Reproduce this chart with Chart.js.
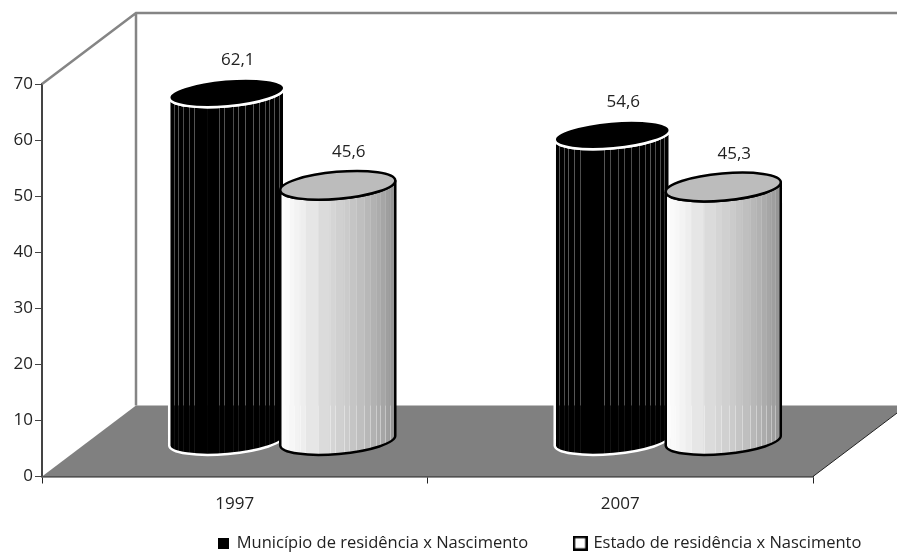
<!DOCTYPE html>
<html><head><meta charset="utf-8">
<style>html,body{margin:0;padding:0;background:#fff}canvas{display:block}</style>
<script src="https://cdn.jsdelivr.net/npm/chart.js@4/dist/chart.umd.min.js"></script>
</head><body><canvas id="c" width="897" height="554"></canvas>
<script>
const categories = ['1997','2007'];
const seriesNames = ['Município de residência x Nascimento','Estado de residência x Nascimento'];
const municipioValues = [62.1,54.6];
const estadoValues = [45.6,45.3];
const yTicks = [0,10,20,30,40,50,60,70];
const FONT = '"Open Sans",sans-serif';
const DEPTH_X = 94, DEPTH_Y = 71, TILT = -5*Math.PI/180, MINOR = 13.5;
const BAND_EDGES = [0,.04,.08,.12,.17,.22,.33,.43,.48,.55,.6,.66,.73,.78,.83,.87,.91,.95,1];

function whiteShade(t){
  const stops=[[0,255],[0.12,245],[0.35,222],[0.55,205],[0.75,185],[0.9,165],[1,145]];
  for(let i=1;i<stops.length;i++){ if(t<=stops[i][0]){const a=stops[i-1],b=stops[i];const v=Math.round(a[1]+(b[1]-a[1])*(t-a[0])/(b[0]-a[0]));return `rgb(${v},${v},${v})`;} }
  return 'rgb(145,145,145)';
}
const frame3d = {
  id:'frame3d',
  afterLayout(chart){
    const l=chart.legend;
    l.left=171.5; l.right=1000; l.top=488; l.bottom=554;
  },
  beforeDatasetsDraw(chart){
    const {ctx,chartArea:a}=chart;
    const floorBack=a.bottom-DEPTH_Y, top=a.top-DEPTH_Y;
    ctx.save();
    ctx.fillStyle='#808080';
    ctx.beginPath();ctx.moveTo(a.left,a.bottom);ctx.lineTo(a.left+DEPTH_X,floorBack);ctx.lineTo(a.right+DEPTH_X,floorBack);ctx.lineTo(a.right,a.bottom);ctx.closePath();ctx.fill();
    ctx.strokeStyle='#858585';ctx.lineWidth=2.5;
    ctx.beginPath();ctx.moveTo(a.left,a.top);ctx.lineTo(a.left+DEPTH_X,top);ctx.lineTo(a.right+DEPTH_X,top);
    ctx.moveTo(a.left+DEPTH_X,top);ctx.lineTo(a.left+DEPTH_X,floorBack);ctx.stroke();
    ctx.strokeStyle='#222';ctx.lineWidth=1;
    ctx.beginPath();ctx.moveTo(a.right,a.bottom);ctx.lineTo(a.right+DEPTH_X,floorBack);ctx.stroke();
    ctx.restore();
  },
  afterDatasetsDraw(chart){
    const {ctx,chartArea:a}=chart;
    const floorBack=a.bottom-DEPTH_Y;
    ctx.save();
    chart.data.datasets.forEach((ds,di)=>{
      chart.getDatasetMeta(di).data.forEach((bar,i)=>{
        const r=bar.width/2, cx=bar.x+DEPTH_X/2+0.5, yt=bar.y-DEPTH_Y/2, yb=bar.base-DEPTH_Y/2;
        const ex=r*Math.cos(TILT), ey=r*Math.sin(TILT);
        const body=new Path2D();
        body.ellipse(cx,yb,r,MINOR,TILT,0,Math.PI,false);
        body.lineTo(cx-ex,yt-ey);
        body.ellipse(cx,yt,r,MINOR,TILT,Math.PI,0,true);
        body.closePath();
        const edge=di===0?'#fff':'#000';
        ctx.save();ctx.clip(body);
        const L=cx-r;
        for(let s=0;s<BAND_EDGES.length-1;s++){
          const x=L+BAND_EDGES[s]*bar.width, w=(BAND_EDGES[s+1]-BAND_EDGES[s])*bar.width;
          ctx.fillStyle=di===0?'#000':whiteShade((BAND_EDGES[s]+BAND_EDGES[s+1])/2);
          ctx.fillRect(x,yt-30,w+0.5,yb-yt+60);
        }
        for(let s=1;s<BAND_EDGES.length-1;s++){
          const x=Math.round(L+BAND_EDGES[s]*bar.width);
          if(di===0 && BAND_EDGES[s]>.25 && BAND_EDGES[s]<.4) continue;
          ctx.fillStyle=di===0?'rgba(255,255,255,0.3)':'rgba(255,255,255,0.12)';
          ctx.fillRect(x,yt-30,1,floorBack-yt+30);
          ctx.fillStyle=di===0?'rgba(255,255,255,0.07)':'rgba(255,255,255,0.4)';
          ctx.fillRect(x,floorBack,1,yb-floorBack+30);
        }
        ctx.restore();
        ctx.strokeStyle=edge;ctx.lineWidth=2.5;ctx.stroke(body);
        ctx.beginPath();ctx.ellipse(cx,yt,r,MINOR,TILT,0,Math.PI*2);
        ctx.fillStyle=di===0?'#000':'#bcbcbc';ctx.fill();ctx.stroke();
        ctx.fillStyle='#222';ctx.font='17px '+FONT;ctx.textAlign='center';ctx.textBaseline='middle';
        ctx.fillText(String(ds.data[i]).replace('.',','),cx+11,yt-33);
      });
    });
    ctx.restore();
  }
};
function swatch(size,fill,border){
  const c=document.createElement('canvas');c.width=c.height=size;
  const g=c.getContext('2d');g.fillStyle=fill;g.fillRect(0,0,size,size);
  if(border){g.strokeStyle='#000';g.lineWidth=border;g.strokeRect(border/2,border/2,size-border,size-border);}
  return c;
}
const swatches=[swatch(11,'#000',0),swatch(15,'#fff',2.5)];
new Chart(document.getElementById('c'),{
  type:'bar',
  data:{labels:categories,datasets:[
    {label:seriesNames[0],data:municipioValues,backgroundColor:'rgba(0,0,0,0)',borderWidth:0},
    {label:seriesNames[1],data:estadoValues,backgroundColor:'rgba(0,0,0,0)',borderWidth:0}
  ]},
  options:{
    responsive:false,animation:false,
    categoryPercentage:0.576,barPercentage:1.04,
    layout:{padding:{top:84,right:84,left:0,bottom:-43}},
    plugins:{
      tooltip:{enabled:false},
      legend:{position:'bottom',align:'start',
        labels:{color:'#222',font:{family:FONT,size:16.5},usePointStyle:true,pointStyleWidth:10,padding:47,
          generateLabels(chart){return chart.data.datasets.map((d,i)=>({text:d.label,datasetIndex:i,pointStyle:swatches[i],fontColor:'#222',lineWidth:0,strokeStyle:'transparent',fillStyle:'#000'}));}
        }
      }
    },
    scales:{
      x:{offset:true,
        afterFit(s){s.height=47;},
        border:{color:'#222',width:1.5},
        grid:{drawOnChartArea:false,drawTicks:true,tickLength:7,color:'#222',offset:true},
        ticks:{color:'#222',font:{family:FONT,size:17},padding:10,maxRotation:0}
      },
      y:{min:0,max:70,
        afterFit(s){s.width=42;},
        afterBuildTicks(s){s.ticks=yTicks.map(v=>({value:v}));},
        border:{color:'#444',width:2},
        grid:{drawOnChartArea:false,drawTicks:true,tickLength:7,color:'#444'},
        ticks:{color:'#222',font:{family:FONT,size:17},padding:2}
      }
    }
  },
  plugins:[frame3d]
});
</script></body></html>
